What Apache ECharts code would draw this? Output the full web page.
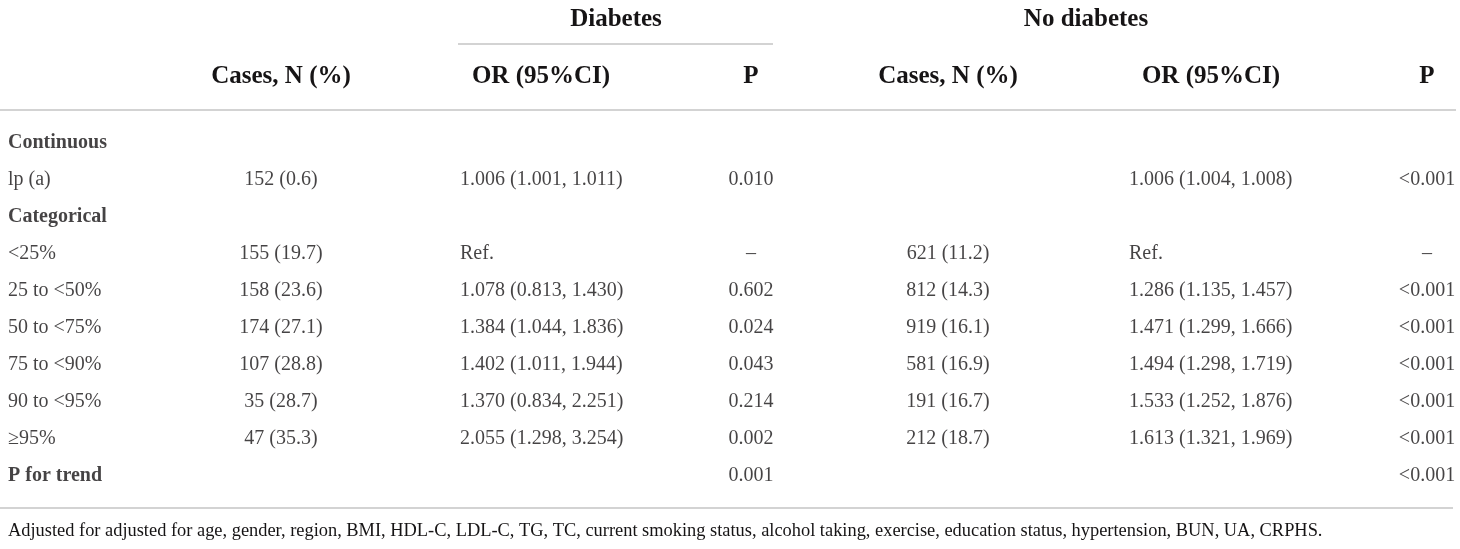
<!DOCTYPE html>
<html>
<head>
<meta charset="utf-8">
<title>Lp(a) and diabetes</title>
<script src="https://cdn.jsdelivr.net/npm/echarts@6/dist/echarts.min.js"></script>
<style>
  html, body { margin: 0; padding: 0; background: #fff; }
</style>
</head>
<body>
<div id="main" style="width: 1460px;height:549px;"></div>

<script type="text/javascript">
    // table content
    var rowLabels = ['Continuous', 'lp (a)', 'Categorical', '<25%', '25 to <50%', '50 to <75%', '75 to <90%', '90 to <95%', '≥95%', 'P for trend'];
    var boldRows = ['Continuous', 'Categorical', 'P for trend'];

    var groupHeaders = ['Diabetes', 'No diabetes'];
    var colHeaders = ['Cases, N (%)', 'OR (95%CI)', 'P', 'Cases, N (%)', 'OR (95%CI)', 'P'];

    var diabCases = ['', '152 (0.6)', '', '155 (19.7)', '158 (23.6)', '174 (27.1)', '107 (28.8)', '35 (28.7)', '47 (35.3)', ''];
    var diabOR = ['', '1.006 (1.001, 1.011)', '', 'Ref.', '1.078 (0.813, 1.430)', '1.384 (1.044, 1.836)', '1.402 (1.011, 1.944)', '1.370 (0.834, 2.251)', '2.055 (1.298, 3.254)', ''];
    var diabP = ['', '0.010', '', '–', '0.602', '0.024', '0.043', '0.214', '0.002', '0.001'];

    var noCases = ['', '', '', '621 (11.2)', '812 (14.3)', '919 (16.1)', '581 (16.9)', '191 (16.7)', '212 (18.7)', ''];
    var noOR = ['', '1.006 (1.004, 1.008)', '', 'Ref.', '1.286 (1.135, 1.457)', '1.471 (1.299, 1.666)', '1.494 (1.298, 1.719)', '1.533 (1.252, 1.876)', '1.613 (1.321, 1.969)', ''];
    var noP = ['', '<0.001', '', '–', '<0.001', '<0.001', '<0.001', '<0.001', '<0.001', '<0.001'];

    var footnote = 'Adjusted for adjusted for age, gender, region, BMI, HDL-C, LDL-C, TG, TC, current smoking status, alcohol taking, exercise, education status, hypertension, BUN, UA, CRPHS.';

    // layout (x anchor of each column on the 0..1460 axis, and how text sits on it)
    var font = '"Liberation Serif", "DejaVu Serif", serif';
    var ink = '#161415';
    var ruleColor = '#d3d3d3';
    var columns = [
        { texts: rowLabels, x: 8, align: 'left' },
        { texts: diabCases, x: 281, align: 'center' },
        { texts: diabOR, x: 460, align: 'left' },
        { texts: diabP, x: 751, align: 'center' },
        { texts: noCases, x: 948, align: 'center' },
        { texts: noOR, x: 1129, align: 'left' },
        { texts: noP, x: 1427, align: 'center' }
    ];
    var headerX = [281, 541, 751, 948, 1211, 1427];
    var groupX = [616, 1086];

    var series = columns.map(function(col, c) {
        var data = [];
        for (var i = 0; i < col.texts.length; i++) {
            if (col.texts[i] === '') continue;
            var bold = c === 0 && boldRows.indexOf(col.texts[i]) >= 0;
            data.push({
                value: [col.x, rowLabels[i], col.texts[i]],
                label: { fontWeight: bold ? 'bold' : 'normal' }
            });
        }
        return {
            type: 'scatter',
            symbolSize: 0,
            silent: true,
            data: data,
            label: {
                show: true,
                position: 'inside',
                align: col.align,
                verticalAlign: 'middle',
                fontFamily: font,
                fontSize: 20,
                color: ink,
                formatter: function(p) { return p.value[2]; }
            }
        };
    });

    var graphics = [];
    groupHeaders.forEach(function(t, k) {
        graphics.push({ type: 'text', x: groupX[k], y: 20, style: {
            text: t, fill: ink, font: 'bold 25px ' + font, textAlign: 'center', textVerticalAlign: 'middle' } });
    });
    colHeaders.forEach(function(t, k) {
        graphics.push({ type: 'text', x: headerX[k], y: 77, style: {
            text: t, fill: ink, font: 'bold 25px ' + font, textAlign: 'center', textVerticalAlign: 'middle' } });
    });
    // rules
    graphics.push({ type: 'line', shape: { x1: 458, y1: 44, x2: 773, y2: 44 }, style: { stroke: ruleColor, lineWidth: 2 } });
    graphics.push({ type: 'line', shape: { x1: 0, y1: 110, x2: 1456, y2: 110 }, style: { stroke: ruleColor, lineWidth: 2 } });
    graphics.push({ type: 'line', shape: { x1: 0, y1: 508, x2: 1453, y2: 508 }, style: { stroke: ruleColor, lineWidth: 2 } });
    graphics.push({ type: 'text', x: 8, y: 531, style: {
        text: footnote, fill: ink, font: '18.4px ' + font, textAlign: 'left', textVerticalAlign: 'middle' } });

    var myChart = echarts.init(document.getElementById('main'));
    myChart.setOption({
        animation: false,
        backgroundColor: '#ffffff',
        grid: { left: 0, right: 0, top: 124, bottom: 55 },
        xAxis: { type: 'value', min: 0, max: 1460, show: false },
        yAxis: { type: 'category', data: rowLabels, inverse: true, show: false },
        graphic: graphics,
        series: series
    });
</script>
</body>
</html>
